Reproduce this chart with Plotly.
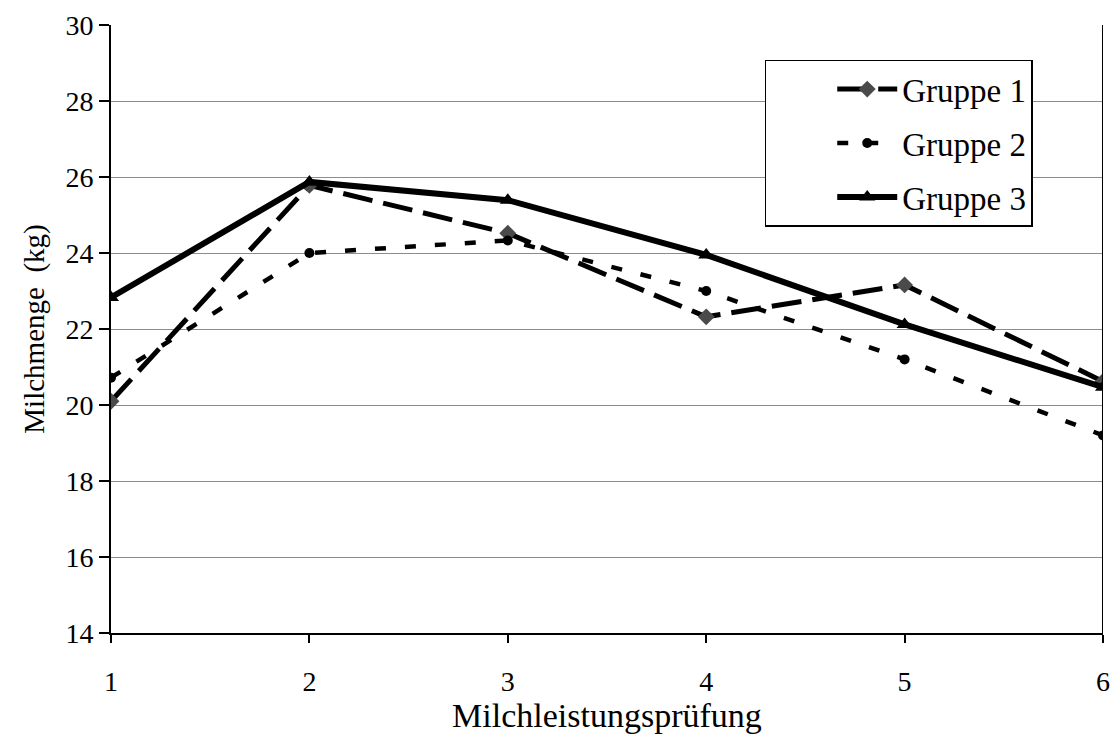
import plotly.graph_objects as go

pruefung = [1, 2, 3, 4, 5, 6]
gruppe1 = [20.1, 25.78, 24.52, 22.32, 23.16, 20.62]
gruppe2 = [20.72, 24.0, 24.33, 23.0, 21.2, 19.2]
gruppe3 = [22.83, 25.87, 25.39, 23.95, 22.12, 20.47]
y_ticks = [14, 16, 18, 20, 22, 24, 26, 28, 30]

FONT = "Liberation Serif, Times New Roman, serif"

fig = go.Figure()
fig.add_trace(go.Scatter(
    x=pruefung, y=gruppe1, name="Gruppe 1", mode="lines+markers",
    line=dict(color="black", width=5, dash="30px,11px"),
    marker=dict(symbol="diamond", size=13, color="#4a4a4a"),
    legendgroup="g1"))
fig.add_trace(go.Scatter(
    x=pruefung, y=gruppe2, name="Gruppe 2", mode="lines+markers",
    line=dict(color="black", width=4.5, dash="11px,19px"),
    marker=dict(symbol="circle", size=10, color="black"),
    legendgroup="g2"))
fig.add_trace(go.Scatter(
    x=pruefung, y=gruppe3, name="Gruppe 3", mode="lines+markers",
    line=dict(color="black", width=6),
    marker=dict(symbol="triangle-up", size=14, color="black"),
    legendgroup="g3"))

fig.add_shape(type="line", xref="x", yref="paper", x0=6, x1=6, y0=0, y1=1,
              line=dict(color="black", width=2))

fig.update_layout(
    width=1120, height=738,
    margin=dict(l=111, r=10, t=18, b=103),
    paper_bgcolor="white", plot_bgcolor="white",
    font=dict(family=FONT, size=28, color="black"),
    showlegend=True,
    legend=dict(
        x=0.659, y=0.943, xanchor="left", yanchor="top",
        bgcolor="white", bordercolor="black", borderwidth=1.5,
        font=dict(family=FONT, size=33, color="black"),
        tracegroupgap=8, itemwidth=60, indentation=66,
    ),
    xaxis=dict(
        range=[1, 6], tickvals=pruefung, ticktext=[str(v) for v in pruefung],
        showgrid=False, zeroline=False,
        showline=True, linecolor="black", linewidth=2,
        ticks="outside", ticklen=8, tickwidth=1.5, tickcolor="black",
        tickfont=dict(family=FONT, size=28), ticklabelstandoff=14,
        title=dict(text="Milchleistungsprüfung", font=dict(family=FONT, size=34), standoff=8),
    ),
    yaxis=dict(
        range=[14, 30], tickvals=y_ticks, ticksuffix="\u00a0\u00a0",
        showgrid=True, gridcolor="#8c8c8c", gridwidth=1.2, zeroline=False,
        showline=True, linecolor="black", linewidth=2,
        ticks="outside", ticklen=10, tickwidth=1.5, tickcolor="black",
        tickfont=dict(family=FONT, size=28),
        title=dict(text="Milchmenge  (kg)", font=dict(family=FONT, size=29), standoff=12),
    ),
)

fig.write_html("out.html")
